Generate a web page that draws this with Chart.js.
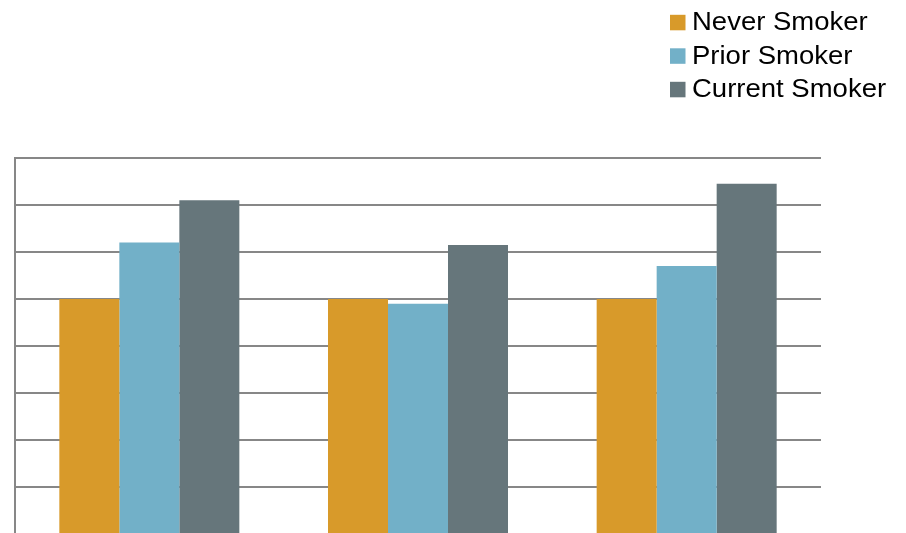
<!DOCTYPE html>
<html>
<head>
<meta charset="utf-8">
<script src="https://cdn.jsdelivr.net/npm/chart.js@4.4.1/dist/chart.umd.min.js"></script>
<style>
  html, body { margin: 0; padding: 0; background: #fff; overflow: hidden; }
  #wrap { position: relative; width: 906px; height: 560px; }
</style>
</head>
<body>
<div id="wrap"><canvas id="chart-canvas"></canvas></div>
<script>
// Relative values by smoking status (never smoker = reference 1.0)
var categories = ['Group A', 'Group B', 'Group C'];
var neverSmoker = [1.0, 1.0, 1.0];
var priorSmoker = [1.24, 0.98, 1.14];
var currentSmoker = [1.42, 1.23, 1.49];
var seriesLabels = ['Never Smoker', 'Prior Smoker', 'Current Smoker'];
var seriesColors = ['#D89A2A', '#72B0C8', '#66767B'];

var gridColor = '#878787';

// Stacked legend in the top right corner, text stretched a bit wider
var cornerLegend = {
  id: 'cornerLegend',
  afterDraw: function(chart) {
    var ctx = chart.ctx;
    ctx.save();
    ctx.font = '25px "Liberation Sans", Arial, sans-serif';
    ctx.textBaseline = 'alphabetic';
    chart.data.datasets.forEach(function(ds, i) {
      var baseline = 30.3 + i * 33.5;
      ctx.fillStyle = ds.backgroundColor;
      ctx.fillRect(670, baseline - 15.5, 15.5, 15.5);
      ctx.save();
      ctx.translate(692, baseline);
      ctx.scale(1.1, 1);
      ctx.fillStyle = '#000';
      ctx.fillText(ds.label, 0, 0);
      ctx.restore();
    });
    ctx.restore();
  }
};

var data = {
  labels: categories,
  datasets: [
    { label: seriesLabels[0], data: neverSmoker, backgroundColor: seriesColors[0] },
    { label: seriesLabels[1], data: priorSmoker, backgroundColor: seriesColors[1] },
    { label: seriesLabels[2], data: currentSmoker, backgroundColor: seriesColors[2] }
  ]
};

var config = {
  type: 'bar',
  data: data,
  options: {
    responsive: false,
    animation: false,
    datasets: {
      bar: { categoryPercentage: 0.67, barPercentage: 1.0, borderWidth: 0 }
    },
    layout: { padding: { left: 15, right: 85, top: 158, bottom: 18 } },
    scales: {
      x: {
        grid: { display: false },
        ticks: { display: false },
        border: { display: false }
      },
      y: {
        min: 0,
        max: 1.6,
        ticks: { display: false, stepSize: 0.2 },
        grid: { color: gridColor, lineWidth: 2, drawTicks: false },
        border: { color: gridColor, width: 2 }
      }
    },
    plugins: {
      legend: { display: false },
      tooltip: { enabled: false }
    }
  },
  plugins: [cornerLegend]
};

var canvas = document.getElementById('chart-canvas');
canvas.width = 906;
canvas.height = 560;
new Chart(canvas.getContext('2d'), config);
</script>
</body>
</html>
